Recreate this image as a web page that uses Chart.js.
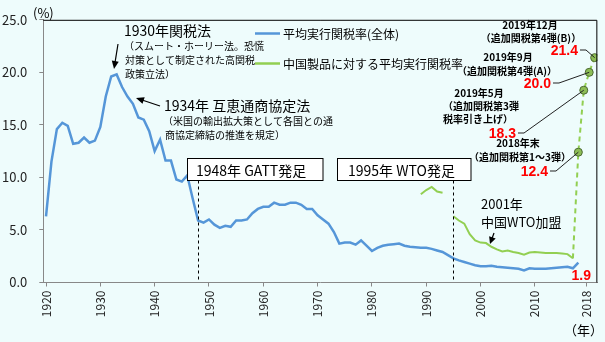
<!DOCTYPE html>
<html><head><meta charset="utf-8">
<script src="https://cdn.jsdelivr.net/npm/chart.js@4/dist/chart.umd.min.js"></script>
<style>html,body{margin:0;padding:0;background:#eefcfc;} #wrap{width:605px;height:342px;position:relative}</style>
</head><body><div id="wrap"><canvas id="c" width="605" height="342"></canvas></div>
<script>
// ---- data ----
const years = [1920,1921,1922,1923,1924,1925,1926,1927,1928,1929,
  1930,1931,1932,1933,1934,1935,1936,1937,1938,1939,
  1940,1941,1942,1943,1944,1945,1946,1947,1948,1949,
  1950,1951,1952,1953,1954,1955,1956,1957,1958,1959,
  1960,1961,1962,1963,1964,1965,1966,1967,1968,1969,
  1970,1971,1972,1973,1974,1975,1976,1977,1978,1979,
  1980,1981,1982,1983,1984,1985,1986,1987,1988,1989,
  1990,1991,1992,1993,1994,1995,1996,1997,1998,1999,
  2000,2001,2002,2003,2004,2005,2006,2007,2008,2009,
  2010,2011,2012,2013,2014,2015,2016,2017,2018];
const avgTariff = [6.3,11.5,14.6,15.2,14.9,13.2,13.3,13.8,13.3,13.5,
  14.8,17.7,19.6,19.8,18.6,17.7,17.0,15.7,15.5,14.4,
  12.5,13.6,11.6,11.6,9.8,9.6,10.2,8.0,5.9,5.7,
  6.0,5.5,5.2,5.4,5.3,5.9,5.9,6.0,6.6,7.0,
  7.2,7.2,7.6,7.4,7.4,7.6,7.6,7.4,7.0,7.0,
  6.4,6.0,5.6,4.8,3.7,3.8,3.8,3.6,4.0,3.5,
  3.0,3.3,3.5,3.6,3.65,3.7,3.5,3.4,3.35,3.3,
  3.3,3.2,3.05,2.9,2.6,2.3,2.1,1.95,1.8,1.65,
  1.55,1.55,1.6,1.5,1.45,1.4,1.35,1.3,1.15,1.35,
  1.3,1.3,1.3,1.35,1.4,1.45,1.5,1.35,1.9];
const chinaYears = [1989,1990,1991,1992,1993,1994,1995,1996,1997,1998,1999,
  2000,2001,2002,2003,2004,2005,2006,2007,2008,2009,
  2010,2011,2012,2013,2014,2015,2016,2017];
const chinaTariff = [8.4,8.8,9.1,8.65,8.55,null,6.3,5.9,5.6,4.6,4.0,
  3.8,3.75,3.4,3.15,2.95,3.05,2.9,2.8,2.65,2.85,
  2.9,2.85,2.8,2.8,2.8,2.75,2.7,2.3];
// additional (sub-annual) points after 2017, positions as read on the axis
const tailPos = [2018, 2019, 2020, 2021];
const tailValues = [12.4, 18.3, 20.0, 21.4];
const tailValueLabels = ['12.4','18.3','20.0','21.4'];
const lastAvgLabel = '1.9';
const xTickPos = [1920,1930,1940,1950,1960,1970,1980,1990,2000,2010,2019.5];
const xTickLabels = ['1920','1930','1940','1950','1960','1970','1980','1990','2000','2010','2018'];
const yTicks = [0,5,10,15,20,25];
const seriesNames = ['平均実行関税率(全体)','中国製品に対する平均実行関税率'];
const eventYears = [1948, 1995];
const eventLabels = ['1948年 GATT発足','1995年 WTO発足'];

const JP = '"Noto Sans CJK JP", "Noto Sans", sans-serif';
const BG = '#eefcfc';
const BLUE = '#5596d8';
const GREEN = '#92cf52';

const blueData = years.map((y,i)=>({x:y,y:avgTariff[i]}));
const nSolid = chinaYears.length;
const greenData = chinaYears.map((y,i)=>({x:y,y:chinaTariff[i]}))
  .concat(tailPos.map((p,i)=>({x:p,y:tailValues[i]})));

function arrow(ctx,x1,y1,x2,y2,hl,hw){
  const a = Math.atan2(y2-y1,x2-x1);
  ctx.beginPath(); ctx.moveTo(x1,y1);
  ctx.lineTo(x2-Math.cos(a)*hl*0.8,y2-Math.sin(a)*hl*0.8); ctx.stroke();
  ctx.beginPath(); ctx.moveTo(x2,y2);
  ctx.lineTo(x2-hl*Math.cos(a)+hw*Math.sin(a), y2-hl*Math.sin(a)-hw*Math.cos(a));
  ctx.lineTo(x2-hl*Math.cos(a)-hw*Math.sin(a), y2-hl*Math.sin(a)+hw*Math.cos(a));
  ctx.closePath(); ctx.fill();
}

const bgPlugin = {
  id:'bg',
  beforeDraw(chart){
    const c = chart.ctx; c.save(); c.fillStyle = BG; c.fillRect(0,0,chart.width,chart.height); c.restore();
  }
};

const annoPlugin = {
  id:'anno',
  afterDatasetsDraw(chart){
    const c = chart.ctx, a = chart.chartArea, xs = chart.scales.x, ys = chart.scales.y;
    c.save();
    // top / right frame
    c.strokeStyle = '#000'; c.lineWidth = 1;
    c.beginPath(); c.moveTo(a.left, a.top+0.5); c.lineTo(a.right-0.5, a.top+0.5); c.lineTo(a.right-0.5, a.bottom); c.stroke();

    // event boxes & dashed lines
    const boxes = [[187.5,158.5,135.5,22,196],[337.5,158.5,133.5,22,348]];
    eventYears.forEach((yr,i)=>{
      const px = Math.round(xs.getPixelForValue(yr))+0.5;
      const b = boxes[i];
      c.setLineDash([3,3]); c.strokeStyle='#000'; c.lineWidth=1;
      c.beginPath(); c.moveTo(px,b[1]+b[3]); c.lineTo(px,a.bottom); c.stroke();
      c.setLineDash([]);
      c.fillStyle='#fff'; c.fillRect(b[0],b[1],b[2],b[3]);
      c.strokeRect(b[0],b[1],b[2],b[3]);
      c.fillStyle='#000'; c.font = '14px '+JP; c.textBaseline='middle'; c.textAlign='left';
      c.fillText(eventLabels[i], b[4], b[1]+b[3]/2+1);
    });

    // legend
    c.lineWidth = 2.5;
    c.strokeStyle = BLUE; c.beginPath(); c.moveTo(255,33.5); c.lineTo(280,33.5); c.stroke();
    c.strokeStyle = GREEN; c.beginPath(); c.moveTo(255,63.5); c.lineTo(280,63.5); c.stroke();
    c.fillStyle='#000'; c.font='12px '+JP; c.textBaseline='middle'; c.textAlign='left';
    c.fillText(seriesNames[0], 283, 34);
    c.fillText(seriesNames[1], 283, 64);

    // unit labels
    c.font='13px '+JP;
    c.fillText('(%)', 33, 13);
    c.fillText('（年）', 564, 330);

    // 1930 annotation
    c.font='14px '+JP;
    c.fillText('1930年関税法', 124, 31);
    c.font='10px '+JP;
    c.fillText('（スムート・ホーリー法。恐慌', 124, 46);
    c.fillText('対策として制定された高関税', 125, 60);
    c.fillText('政策立法）', 125, 74);
    // 1934 annotation
    c.font='14px '+JP;
    c.fillText('1934年 互恵通商協定法', 164, 106);
    c.font='10px '+JP;
    c.fillText('（米国の輸出拡大策として各国との通', 163, 121);
    c.fillText('商協定締結の推進を規定）', 165, 135);
    // 2001 annotation
    c.font='13px '+JP;
    c.fillText('2001年', 481, 204);
    c.fillText('中国WTO加盟', 481, 222);

    // arrows
    c.strokeStyle='#000'; c.fillStyle='#000'; c.lineWidth=1.2;
    arrow(c,118,44,114,69,8,3.5);
    arrow(c,160,106,136,98,8,3.5);
    arrow(c,494,233,490,244,7,3.5);

    // tail annotations (bold black)
    c.font='bold 10px '+JP; c.textAlign='center';
    c.fillText('2019年12月', 530, 25);
    c.fillText('（追加関税第4弾(B)）', 531, 38);
    c.fillText('2019年9月', 508, 57);
    c.fillText('（追加関税第4弾(A)）', 507, 71);
    c.fillText('2019年5月', 479, 93);
    c.fillText('（追加関税第3弾', 481, 106);
    c.fillText('税率引き上げ）', 478, 119);
    c.fillText('2018年末', 518, 143);
    c.fillText('（追加関税第1～3弾）', 520, 157);

    // red value labels + leaders
    const lbl = [[548,171],[516,133],[551,83],[578,50]];
    c.font='bold 14px "Liberation Sans", Arial, sans-serif'; c.textAlign='right';
    tailPos.forEach((p,i)=>{
      const px = xs.getPixelForValue(p), py = ys.getPixelForValue(tailValues[i]);
      const [lx,ly] = lbl[i];
      c.strokeStyle='#222'; c.lineWidth=1;
      c.beginPath(); c.moveTo(lx+2, ly); c.lineTo(lx+8, ly); c.lineTo(px, py); c.stroke();
      c.fillStyle='#ff0000';
      c.fillText(tailValueLabels[i], lx, ly+1);
    });
    c.textAlign='left';
    c.fillText(lastAvgLabel, 571.5, 276);
    c.restore();
  }
};

new Chart(document.getElementById('c'), {
  type:'line',
  data:{datasets:[
    {data:blueData, borderColor:BLUE, borderWidth:2.5, pointRadius:0, tension:0},
    {data:greenData, borderColor:GREEN, borderWidth:2, tension:0, spanGaps:false,
     pointRadius: ctx => ctx.dataIndex >= nSolid ? 4 : 0,
     pointBackgroundColor:'#8cbd55', pointBorderColor:'#4d6a35', pointBorderWidth:1,
     segment:{borderDash: ctx => ctx.p1DataIndex >= nSolid ? [5,4] : undefined}}
  ]},
  options:{
    responsive:false, animation:false, devicePixelRatio:1,
    layout:{padding:{top:19.5,right:5.7,left:0,bottom:0}},
    plugins:{legend:{display:false}, tooltip:{enabled:false}},
    scales:{
      x:{type:'linear', min:1919.5, max:2021.5,
         afterBuildTicks: s => { s.ticks = xTickPos.map(v=>({value:v})); },
         afterFit: s => { s.height = 59.5; },
         ticks:{callback:(v,i)=>xTickLabels[i], minRotation:90, maxRotation:90, autoSkip:false,
                font:{family:JP,size:12}, color:'#222', padding:4},
         grid:{drawOnChartArea:false, tickLength:4, color:'#888'},
         border:{color:'#888', width:1}},
      y:{min:0, max:25,
         afterBuildTicks: s => { s.ticks = yTicks.map(v=>({value:v})); },
         afterFit: s => { s.width = 43.3; },
         ticks:{callback:v=>v.toFixed(1), font:{family:JP,size:13}, color:'#222', padding:12},
         grid:{drawOnChartArea:false, tickLength:4, color:'#888'},
         border:{color:'#888', width:1}}
    }
  },
  plugins:[bgPlugin, annoPlugin]
});
</script></body></html>
